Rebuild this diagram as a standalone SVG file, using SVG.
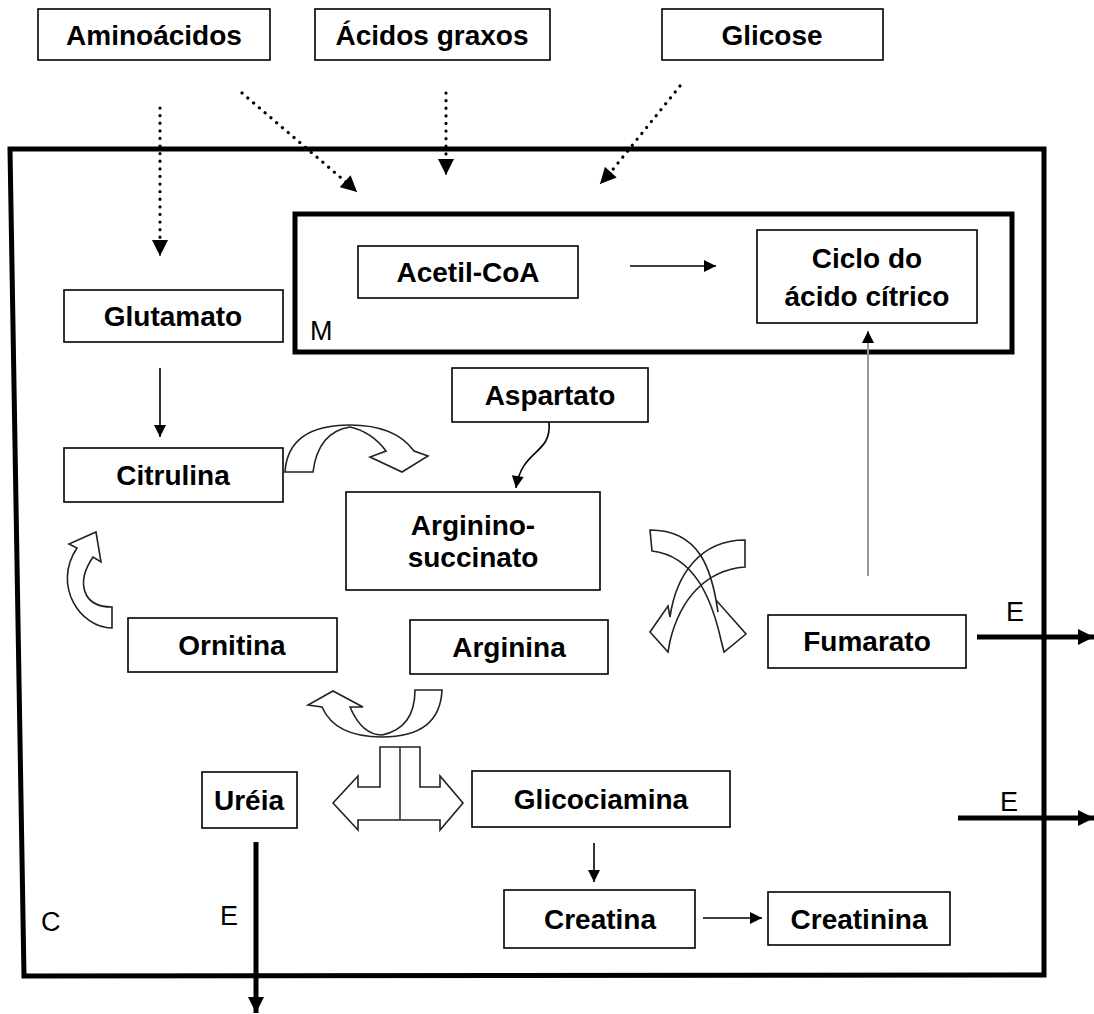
<svg xmlns="http://www.w3.org/2000/svg" width="1094" height="1014" viewBox="0 0 1094 1014">
<style>
.box{fill:#fff;stroke:#000;stroke-width:1.6}
.t{font-family:"Liberation Sans",Arial,sans-serif;font-weight:bold;font-size:28px;fill:#000;text-anchor:middle}
.lb{font-family:"Liberation Sans",Arial,sans-serif;font-size:27px;fill:#000}
.dot{fill:none;stroke:#000;stroke-width:3.2;stroke-linecap:round;stroke-dasharray:0.1 7.5}
.thin{fill:none;stroke:#000;stroke-width:1.6}
.thick{fill:none;stroke:#000;stroke-width:5}
.blk{fill:none;stroke:#222;stroke-width:1.6;stroke-linejoin:miter}
</style>
<defs>
<marker id="ah" viewBox="0 0 10 10" refX="10" refY="5" markerWidth="13" markerHeight="12" orient="auto" markerUnits="userSpaceOnUse"><path d="M0,0 L10,5 L0,10 Z" fill="#000"/></marker>
<marker id="ahd" viewBox="0 0 10 10" refX="10" refY="5" markerWidth="17" markerHeight="16" orient="auto" markerUnits="userSpaceOnUse"><path d="M0,0 L10,5 L0,10 Z" fill="#000"/></marker>
<marker id="aht" viewBox="0 0 10 10" refX="10" refY="5" markerWidth="16" markerHeight="18" orient="auto" markerUnits="userSpaceOnUse"><path d="M0,0 L10,5 L0,10 Z" fill="#000"/></marker>
</defs>
<rect width="1094" height="1014" fill="#fff"/>

<g id="frame-C">
<polygon points="10,149 1044,149 1044,975 24,976" fill="none" stroke="#000" stroke-width="5" stroke-linejoin="miter"/>
<text class="lb" x="41" y="931">C</text>
</g>
<g id="frame-M">
<rect x="295" y="214" width="717" height="138" fill="none" stroke="#000" stroke-width="5"/>
<text class="lb" x="310" y="340">M</text>
</g>

<g id="connectors">
<line class="dot" x1="160" y1="108" x2="160" y2="244"/>
<line x1="160" y1="244" x2="160" y2="256" stroke="#000" stroke-width="1" marker-end="url(#ahd)"/>
<line class="dot" x1="242" y1="93" x2="347" y2="183"/>
<line x1="345" y1="181" x2="357" y2="192" stroke="#000" stroke-width="1" marker-end="url(#ahd)"/>
<line class="dot" x1="446" y1="93" x2="446" y2="160"/>
<line x1="446" y1="160" x2="446" y2="175" stroke="#000" stroke-width="1" marker-end="url(#ahd)"/>
<line class="dot" x1="680" y1="86" x2="610" y2="173"/>
<line x1="611" y1="172" x2="600" y2="184" stroke="#000" stroke-width="1" marker-end="url(#ahd)"/>

<line class="thin" x1="630" y1="266" x2="716" y2="266" marker-end="url(#ah)"/>
<line class="thin" x1="160" y1="368" x2="160" y2="437" marker-end="url(#ah)"/>
<path class="thin" d="M549,422 C552,455 522,448 516,488" marker-end="url(#ah)"/>
<line x1="868" y1="576" x2="868" y2="331" stroke="#999" stroke-width="2" marker-end="url(#ah)"/>
<line class="thin" x1="594" y1="843" x2="594" y2="882" marker-end="url(#ah)"/>
<line class="thin" x1="703" y1="918" x2="762" y2="918" marker-end="url(#ah)"/>
<line class="thick" x1="977" y1="637" x2="1094" y2="637" marker-end="url(#aht)"/>
<line class="thick" x1="958" y1="818" x2="1094" y2="818" marker-end="url(#aht)"/>
<line class="thick" x1="256" y1="842" x2="256" y2="1013" marker-end="url(#aht)"/>
<text class="lb" x="1006" y="621">E</text>
<text class="lb" x="1000" y="811">E</text>
<text class="lb" x="220" y="925">E</text>

<path class="blk" d="M285,472 Q288,425 350,425 Q395,425 414,451 L428,456 L402,472 L370,457 L386,451 Q372,432 350,427 Q318,432 313,472 Z"/>
<path class="blk" d="M650,530 C700,530 712,570 718,612 L716,600 L746,634 L724,652 L721,640 C712,600 695,556 652,551 Z"/>
<path class="blk" d="M745,540 C700,540 676,575 670,617 L668,606 L650,632 L668,652 L670,641 C680,600 705,570 745,567 Z"/>
<path class="blk" d="M112,628 C80,628 52,585 77,548 L69,544 L96,532 L101,562 L93,557 C76,582 82,607 112,607 Z"/>
<path class="blk" d="M442,690 Q440,737 382,737 Q335,737 322,707 L308,705 L333,691 L363,707 L350,707 Q362,735 382,735 Q415,728 415,690 Z"/>
<path class="blk" stroke="#555" d="M380,747 L420,747 L420,787 L440,787 L440,776 L463,803 L440,830 L440,820 L358,820 L358,830 L333,803 L358,776 L358,787 L380,787 Z"/>
<line x1="400" y1="747" x2="400" y2="820" stroke="#333" stroke-width="1.6"/>
</g>

<g id="n-aminoacidos"><rect class="box" x="38" y="9" width="232" height="51"/><text class="t" x="154" y="45">Aminoácidos</text></g>
<g id="n-acidos-graxos"><rect class="box" x="315" y="9" width="235" height="51"/><text class="t" x="432" y="45">Ácidos graxos</text></g>
<g id="n-glicose"><rect class="box" x="662" y="9" width="221" height="51"/><text class="t" x="772" y="45">Glicose</text></g>
<g id="n-acetil-coa"><rect class="box" x="358" y="246" width="220" height="52"/><text class="t" x="468" y="282">Acetil-CoA</text></g>
<g id="n-ciclo"><rect class="box" x="757" y="230" width="220" height="93"/><text class="t" x="867" y="268">Ciclo do</text><text class="t" x="867" y="306">ácido cítrico</text></g>
<g id="n-glutamato"><rect class="box" x="64" y="290" width="219" height="52"/><text class="t" x="173" y="326">Glutamato</text></g>
<g id="n-citrulina"><rect class="box" x="64" y="448" width="219" height="54"/><text class="t" x="173" y="485">Citrulina</text></g>
<g id="n-aspartato"><rect class="box" x="452" y="368" width="196" height="54"/><text class="t" x="550" y="405">Aspartato</text></g>
<g id="n-argininosuccinato"><rect class="box" x="346" y="492" width="254" height="98"/><text class="t" x="473" y="535">Arginino-</text><text class="t" x="473" y="567">succinato</text></g>
<g id="n-ornitina"><rect class="box" x="128" y="618" width="209" height="54"/><text class="t" x="232" y="655">Ornitina</text></g>
<g id="n-arginina"><rect class="box" x="410" y="620" width="198" height="54"/><text class="t" x="509" y="657">Arginina</text></g>
<g id="n-fumarato"><rect class="box" x="768" y="615" width="198" height="53"/><text class="t" x="867" y="651">Fumarato</text></g>
<g id="n-ureia"><rect class="box" x="202" y="772" width="95" height="56"/><text class="t" x="249" y="810">Uréia</text></g>
<g id="n-glicociamina"><rect class="box" x="472" y="771" width="258" height="56"/><text class="t" x="601" y="809">Glicociamina</text></g>
<g id="n-creatina"><rect class="box" x="504" y="890" width="191" height="58"/><text class="t" x="600" y="929">Creatina</text></g>
<g id="n-creatinina"><rect class="box" x="768" y="892" width="182" height="53"/><text class="t" x="859" y="929">Creatinina</text></g>
</svg>
